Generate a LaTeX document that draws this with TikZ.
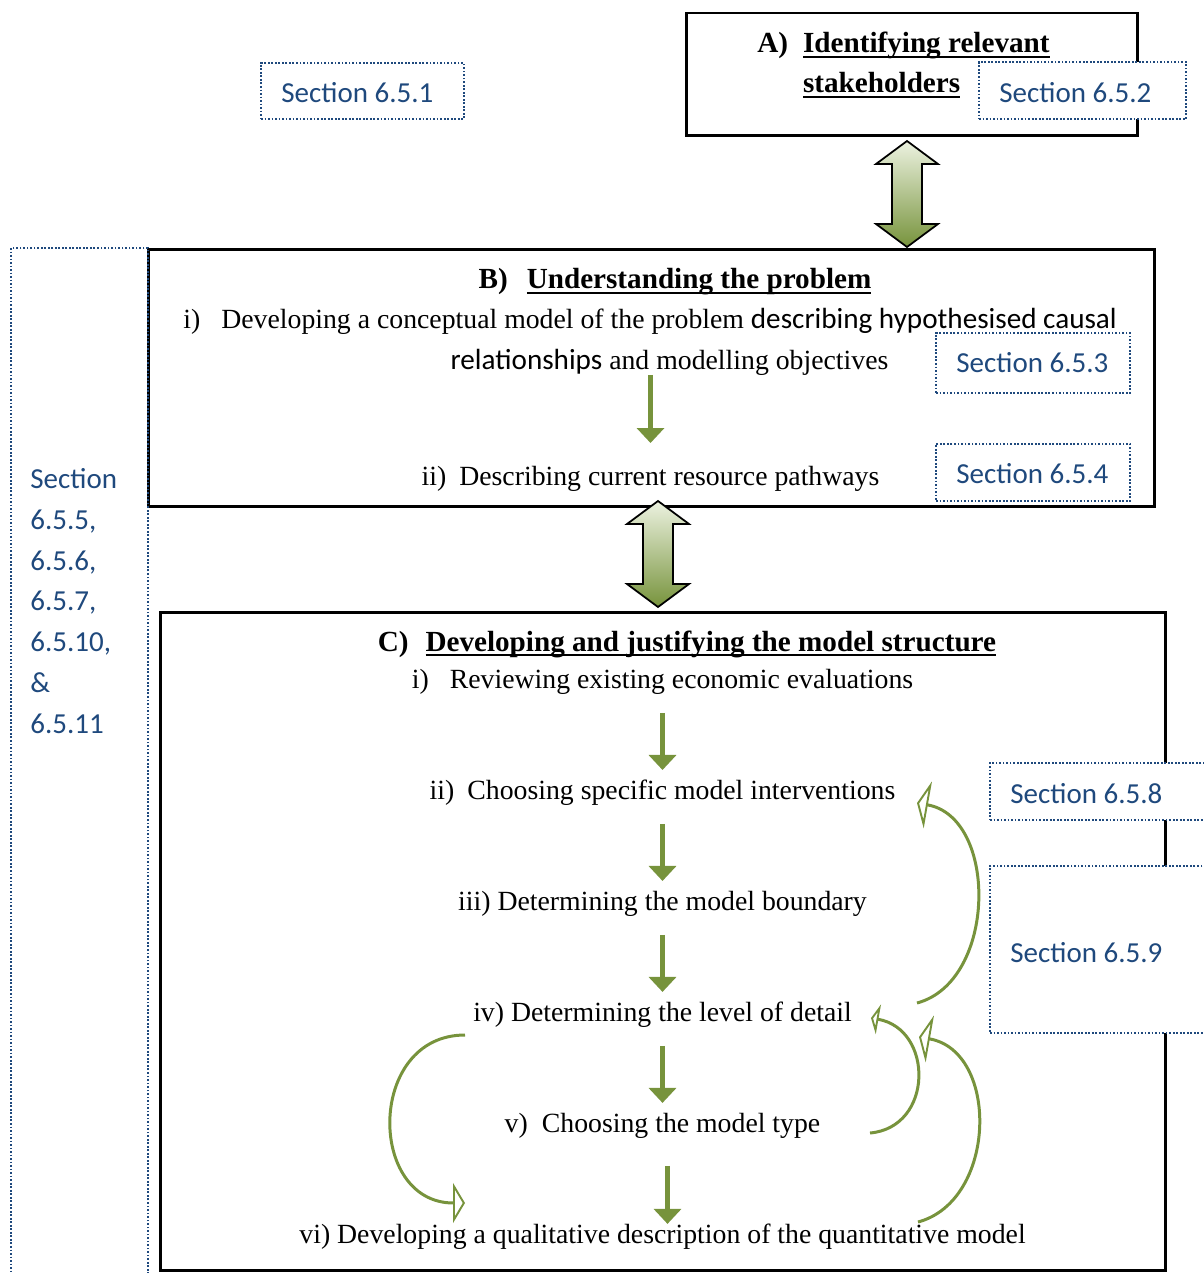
\documentclass[tikz,border=0pt]{standalone}
\usepackage{fontspec}
\setmainfont{Liberation Serif}
\newfontfamily\calibri{Carlito}
\usepackage{tikz}
\usetikzlibrary{arrows.meta, positioning}
\definecolor{secblue}{RGB}{31,73,125}
\definecolor{olivegreen}{RGB}{119,147,60}
\definecolor{palegreen}{RGB}{236,242,224}
\newcommand{\undl}[1]{\setbox0\hbox{#1}\rlap{\rule[-3pt]{\wd0}{1.2pt}}\box0}
\tikzstyle{stagebox} = [draw=black, line width=1.7pt, inner sep=0pt]
\tikzstyle{secbox} = [draw=secblue, dash pattern=on 1pt off 1pt, line width=1.1pt, fill=white, inner sep=0pt]
\tikzstyle{seclabel} = [font=\calibri\fontsize{16.5}{23.2}\selectfont, text=secblue, inner sep=0pt]
\tikzstyle{steptext} = [font=\fontsize{15.8}{19}\selectfont, inner sep=0pt]
\tikzstyle{headtext} = [font=\fontsize{16.6}{20}\selectfont\bfseries, inner sep=0pt]
\tikzstyle{steparrow} = [draw=olivegreen, line width=3.4pt, -{Triangle[length=0.3cm, width=0.54cm]}]
\tikzstyle{loopback} = [draw=olivegreen, line width=1.7pt, -{Triangle[open, length=0.22cm, width=0.95cm, line width=1.1pt]}]
\tikzset{
  twoway/.pic={
    \shade[top color=palegreen, bottom color=olivegreen, draw=black, line width=1pt]
      (0,53) -- (31,30) -- (15,30) -- (15,-30) -- (31,-30) -- (0,-53)
      -- (-31,-30) -- (-15,-30) -- (-15,30) -- (-31,30) -- cycle;
  }
}

\begin{document}
\begin{tikzpicture}[x=0.02cm, y=0.02cm, node distance=2.22cm]
\useasboundingbox (0,0) rectangle (1203,-1273);

% the three stages
\node (boxA) [stagebox, minimum width=9.04cm, minimum height=2.46cm] at (912,-74.5) {};
\node (boxB) [stagebox, minimum width=20.14cm, minimum height=5.16cm] at (651.5,-378) {};
\node (boxC) [stagebox, minimum width=20.12cm, minimum height=13.18cm] at (663,-941.5) {};
\pic at (907,-194) {twoway};
\pic at (658,-554) {twoway};

% section references
\node (side) [secbox, fill=none, anchor=north west, minimum width=2.74cm, minimum height=21.3cm] at (10,-247) {};
\node (sidelabel) [seclabel, anchor=west, align=left] at (30,-601) {Section\\6.5.5,\\6.5.6,\\6.5.7,\\6.5.10,\\\&\\6.5.11};
\node (sec1) [secbox, minimum width=4.06cm, minimum height=1.12cm, label={[seclabel, anchor=west, xshift=0.42cm, yshift=-0.04cm]west:Section 6.5.1}] at (362.5,-91) {};
\node (sec2) [secbox, minimum width=4.14cm, minimum height=1.14cm, label={[seclabel, anchor=west, xshift=0.42cm, yshift=-0.04cm]west:Section 6.5.2}] at (1082.5,-90.5) {};
\node (sec3) [secbox, minimum width=3.88cm, minimum height=1.2cm, label={[seclabel, anchor=west, xshift=0.42cm]west:Section 6.5.3}] at (1033,-363) {};
\node (sec4) [secbox, minimum width=3.88cm, minimum height=1.14cm, label={[seclabel, anchor=west, xshift=0.42cm, yshift=-0.02cm]west:Section 6.5.4}] at (1033,-472.5) {};
\node (sec8) [secbox, minimum width=4.6cm, minimum height=1.14cm, label={[seclabel, anchor=west, xshift=0.42cm, yshift=-0.04cm]west:Section 6.5.8}] at (1105,-791.5) {};
\node (sec9) [secbox, minimum width=4.6cm, minimum height=3.34cm, label={[seclabel, anchor=west, xshift=0.42cm, yshift=-0.06cm]west:Section 6.5.9}] at (1105,-949.5) {};

% A
\node (a0) [headtext, anchor=west, align=left] at (757,-65) {A)\hspace{8.5pt}\undl{Identifying relevant}\\[3pt]\hspace*{26pt}\undl{stakeholders}};

% B
\node (b0) [headtext] at (675,-282) {B)\hspace{10.8pt}\undl{Understanding the problem}};
\node (b1) [steptext] at (650,-321) {i)\hspace{12pt}Developing a conceptual model of the problem {\calibri\fontsize{16.6}{19}\selectfont describing hypothesised causal}};
\node (b1x) [steptext] at (669.5,-362) {{\calibri\fontsize{16.6}{19}\selectfont relationships} and modelling objectives};
\node (b2) [steptext] at (650.5,-479) {ii)\hspace{7.4pt}Describing current resource pathways};
\draw [steparrow, shorten <=0.26cm, shorten >=0.72cm] (b2 |- b1x) -- (b2.center);

% C
\node (c0) [headtext] at (687,-644) {C)\hspace{9.6pt}\undl{Developing and justifying the model structure}};
\node (c1) [steptext] at (662.5,-682) {i)\hspace{12pt}Reviewing existing economic evaluations};
\node (c2) [steptext, below of=c1] {ii)\hspace{7.4pt}Choosing specific model interventions};
\node (c3) [steptext, below of=c2] {iii) Determining the model boundary};
\node (c4) [steptext, below of=c3] {iv) Determining the level of detail};
\node (c5) [steptext, below of=c4] {v)\hspace{8pt}Choosing the model type};
\node (c6) [steptext, below of=c5] {vi) Developing a qualitative description of the quantitative model};
\foreach \i/\j in {c1/c2, c2/c3, c3/c4, c4/c5}
  \draw [steparrow, shorten <=0.62cm, shorten >=0.46cm] (\i.center) -- (\j.center);
\draw [steparrow, shorten <=0.8cm, shorten >=0.26cm] ([xshift=0.1cm]c5.center) -- ([xshift=0.1cm]c6.center);

% iterations
\coordinate (loop1s) at (917,-1003);
\coordinate (loop1e) at (917,-803);
\coordinate (loop2s) at (870,-1133);
\coordinate (loop2e) at (871,-1018);
\coordinate (loop3s) at (918,-1222);
\coordinate (loop3e) at (919,-1037);
\coordinate (loop4s) at (465,-1035);
\coordinate (loop4e) at (465,-1203);
\draw [loopback] (loop1s) to [out=15, in=-10, looseness=1.06] (loop1e);
\draw [loopback, -{Triangle[open, length=0.15cm, width=0.6cm, line width=1.1pt]}] (loop2s) to [out=5, in=-10, looseness=1.42] (loop2e);
\draw [loopback] (loop3s) to [out=15, in=-10, looseness=1.13] (loop3e);
\draw [loopback, -{Triangle[open, length=0.24cm, width=0.8cm, line width=1.1pt]}] (loop4s) to [out=180, in=180, looseness=1.5] (loop4e);
\end{tikzpicture}
\end{document}
